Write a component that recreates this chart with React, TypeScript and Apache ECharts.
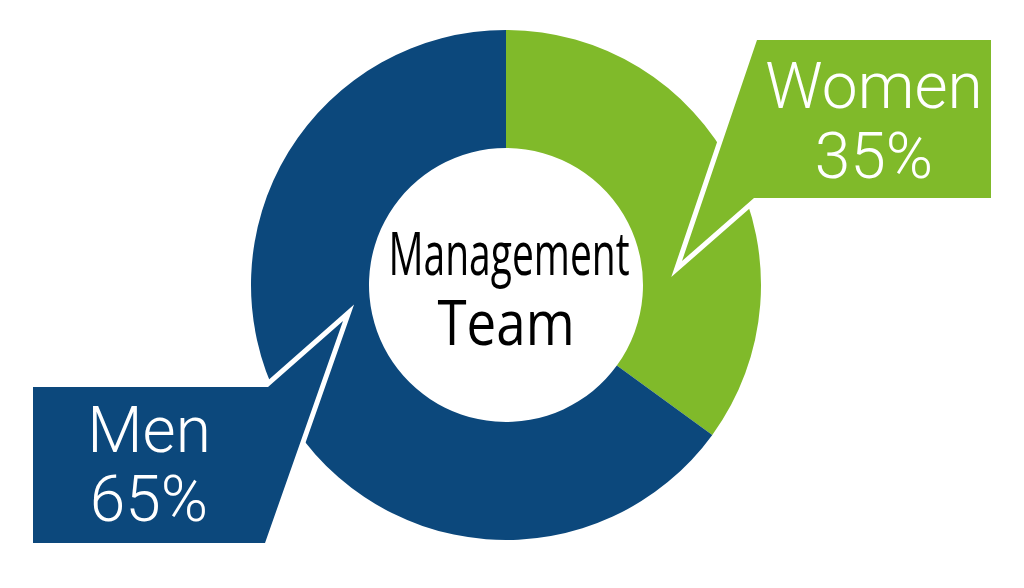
import React, { useEffect, useRef } from "react";
import * as echarts from "echarts";

const categories = ["Women", "Men"];
const values = [35, 65];
const colors = ["#80BA2A", "#0C487C"];
const centerTitle = ["Management", "Team"];

export default function App() {
  const ref = useRef<HTMLDivElement>(null);
  useEffect(() => {
    if (!ref.current) return;
    const chart = echarts.init(ref.current, null, { renderer: "svg" });
    const cx = 506;
    const cy = 285;

    // callout shapes (layout only)
    const callouts = [
      {
        pts: [[757, 40], [991, 40], [991, 198], [754, 198], [682, 261]],
        tx: 874,
        ty: [86, 156],
      },
      {
        pts: [[33, 387], [268, 387], [343, 321], [265, 543], [33, 543]],
        tx: 149,
        ty: [430, 499],
      },
    ];

    const graphics: any[] = [];
    callouts.forEach((c, i) => {
      graphics.push({
        type: "polygon",
        z: 100,
        shape: { points: c.pts },
        style: { fill: "#ffffff", stroke: "#ffffff", lineWidth: 10, lineJoin: "miter" },
        silent: true,
      });
      graphics.push({
        type: "polygon",
        z: 101,
        shape: { points: c.pts },
        style: { fill: colors[i] },
        silent: true,
      });
      const lines = [categories[i], values[i] + "%"];
      lines.forEach((t, k) => {
        graphics.push({
          type: "text",
          z: 102,
          x: c.tx,
          y: c.ty[k],
          silent: true,
          style: {
            text: t,
            fill: "#ffffff",
            font: '300 64px "Roboto"',
            textAlign: "center",
            textVerticalAlign: "middle",
          },
        });
      });
    });

    graphics.push({
      type: "text",
      z: 102,
      x: cx + 3,
      y: 252,
      scaleX: 0.65,
      silent: true,
      style: {
        text: centerTitle[0],
        fill: "#000000",
        font: '60px "Open Sans"',
        textAlign: "center",
        textVerticalAlign: "middle",
      },
    });
    graphics.push({
      type: "text",
      z: 102,
      x: cx,
      y: 321,
      scaleX: 0.84,
      silent: true,
      style: {
        text: centerTitle[1],
        fill: "#000000",
        font: '63px "Open Sans"',
        textAlign: "center",
        textVerticalAlign: "middle",
      },
    });

    chart.setOption({
      animation: false,
      backgroundColor: "#ffffff",
      series: [
        {
          type: "pie",
          center: [cx, cy],
          radius: [137, 255],
          startAngle: 90,
          clockwise: true,
          silent: true,
          label: { show: false },
          labelLine: { show: false },
          itemStyle: { borderWidth: 0 },
          data: categories.map((name, i) => ({
            name,
            value: values[i],
            itemStyle: { color: colors[i] },
          })),
        },
      ],
      graphic: graphics,
    });
    return () => chart.dispose();
  }, []);
  return (
    <div
      ref={ref}
      style={{ position: "absolute", left: 0, top: 0, width: 1024, height: 588 }}
    />
  );
}
